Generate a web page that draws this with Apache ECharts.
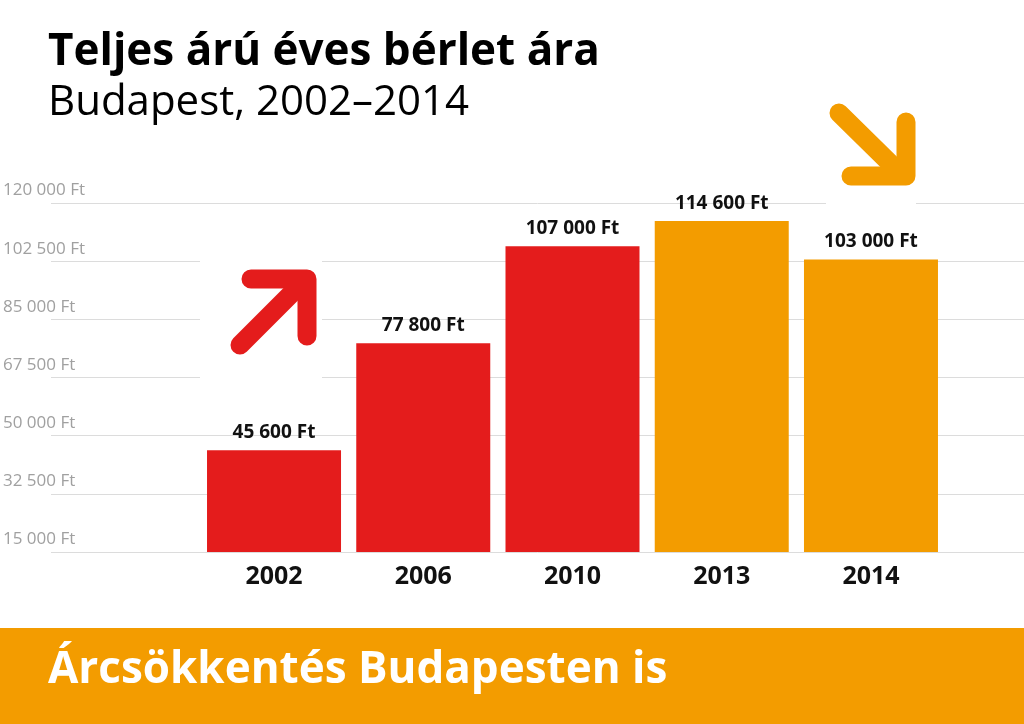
<!DOCTYPE html>
<html><head><meta charset="utf-8">
<script src="https://cdn.jsdelivr.net/npm/echarts@6/dist/echarts.min.js"></script>
<style>html,body{margin:0;padding:0;background:#fff}#c{width:1024px;height:724px}</style>
</head><body><div id="c"></div>
<script>
var categories = ['2002','2006','2010','2013','2014'];
var values = [45600, 77800, 107000, 114600, 103000];
var barColors = ['#e41c1c','#e41c1c','#e41c1c','#f39c00','#f39c00'];
var tickMin = 15000, tickMax = 120000, tickStep = 17500;
function fmt(v){return String(v).replace(/\B(?=(\d{3})+(?!\d))/g,' ') + ' Ft';}
var F = '"Open Sans", "Noto Sans", sans-serif';
var chart = echarts.init(document.getElementById('c'));
chart.setOption({
  animation:false,
  backgroundColor:'#fff',
  grid:[{left:0,right:0,top:203,bottom:172},{left:199.4,right:78.4,top:203,bottom:172}],
  xAxis:[
    {gridIndex:0,type:'value',show:false,min:0,max:1},
    {gridIndex:1,type:'category',data:categories,axisLine:{show:false},axisTick:{show:false},
     axisLabel:{fontFamily:F,fontWeight:'bold',fontSize:25,color:'#111',margin:12}}
  ],
  yAxis:[
    {gridIndex:0,type:'value',min:tickMin,max:tickMax,interval:tickStep,axisLine:{show:false},axisTick:{show:false},
     splitLine:{lineStyle:{color:'#dcdcdc',width:1}},
     axisLabel:{inside:true,margin:-48,verticalAlign:'bottom',padding:[0,0,4,0],fontFamily:F,fontSize:17,color:'#a0a0a0',formatter:fmt}},
    {gridIndex:1,type:'value',min:tickMin,max:tickMax,interval:tickStep,show:false}
  ],
  series:[{type:'bar',xAxisIndex:1,yAxisIndex:1,barWidth:134,
    data:values.map(function(v,i){return {value:v,itemStyle:{color:barColors[i]}};}),
    label:{show:true,position:'top',distance:8,fontFamily:F,fontWeight:'bold',fontSize:19,color:'#111',formatter:function(p){return fmt(p.value);}}
  }],
  graphic:[
    {type:'rect',shape:{x:200,y:256,width:122,height:128},style:{fill:'#fff'},z:5},
    {type:'rect',shape:{x:826,y:196,width:90,height:14},style:{fill:'#fff'},z:5},
    {type:'polyline',shape:{points:[[240,345],[303,282]]},style:{stroke:'#e41c1c',lineWidth:19,lineCap:'round',fill:null},z:6},
    {type:'polyline',shape:{points:[[251,279],[307,279],[307,336]]},style:{stroke:'#e41c1c',lineWidth:19,lineCap:'round',lineJoin:'round',fill:null},z:6},
    {type:'polyline',shape:{points:[[839,113],[900,173]]},style:{stroke:'#f39c00',lineWidth:19,lineCap:'round',fill:null},z:6},
    {type:'polyline',shape:{points:[[851,176],[906,176],[906,122]]},style:{stroke:'#f39c00',lineWidth:19,lineCap:'round',lineJoin:'round',fill:null},z:6},
    {type:'text',left:48,top:30,style:{text:'Teljes árú éves bérlet ára',fontFamily:F,fontWeight:'bold',fontSize:44,fill:'#000'},z:6},
    {type:'text',left:48,top:82,style:{text:'Budapest, 2002–2014',fontFamily:F,fontSize:42,fill:'#000'},z:6},
    {type:'rect',shape:{x:0,y:628,width:1024,height:96},style:{fill:'#f39c00'},z:5},
    {type:'text',left:48,top:648,style:{text:'Árcsökkentés Budapesten is',fontFamily:F,fontWeight:'bold',fontSize:44,fill:'#fff'},z:6}
  ]
});
</script></body></html>
